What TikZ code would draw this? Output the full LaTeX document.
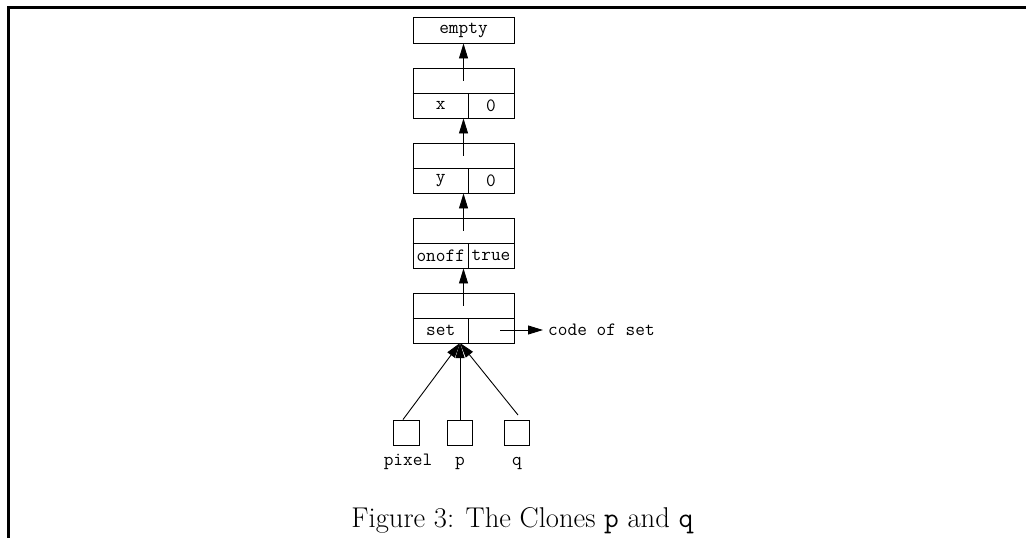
\documentclass[tikz,border=0pt]{standalone}
\usetikzlibrary{arrows.meta}
\tikzset{
  cell/.style={draw, line width=0.9pt, minimum height=25pt, inner sep=0pt, font=\ttfamily\fontsize{18.8}{20}\selectfont},
  lbl/.style={inner sep=0pt, font=\ttfamily\fontsize{18.8}{20}\selectfont},
  ptr/.style={line width=0.9pt, -{Triangle[length=15pt,width=9pt]}},
  frame/.style={line width=3.2pt}
}
\begin{document}
\begin{tikzpicture}[x=1pt,y=-1pt]
\useasboundingbox (0,0) rectangle (1026,538);
% frame
\draw[frame] (8.5,538) -- (8.5,7.5) -- (1026,7.5);
% top box
\node[cell, minimum width=101pt, minimum height=26pt] (empty) at (463.5,30) {empty};
% records
\foreach \n/\t/\a/\b in {x/68/x/0, y/143/y/0, o/218/onoff/true, s/293/set/} {
  \node[cell, minimum width=101pt] (\n t) at (463.5,\t+12.5) {};
  \node[cell, minimum width=55pt] (\n l) at (440.75,\t+37.5) {\a};
  \node[cell, minimum width=46pt] (\n r) at (491,\t+37.5) {\b};
}
\draw[line width=1.6pt] (xt.south west) -- (xt.south east);
\draw[line width=1.6pt] (yt.south west) -- (yt.south east);
\draw[line width=1.6pt] (ot.south west) -- (ot.south east);
\draw[line width=1.6pt] (st.south west) -- (st.south east);
% links
\draw[ptr] (xt.center) -- (empty.south);
\draw[ptr] (yt.center) -- (yt.center |- xl.south);
\draw[ptr] (ot.center) -- (ot.center |- yl.south);
\draw[ptr] (st.center) -- (st.center |- ol.south);
% code pointer
\node[lbl, anchor=west] (code) at (548,330) {code of set};
\coordinate (cs) at (500,330);
\draw[ptr] (cs) -- ([xshift=-5pt]code.west);
% clones
\node[cell, minimum width=26pt] (pixel) at (406,432.5) {};
\node[cell, minimum width=25pt] (p) at (460,432.5) {};
\node[cell, minimum width=25pt] (q) at (516.5,432.5) {};
\node[lbl, anchor=base] (pixell) at (408,465) {pixel};
\node[lbl, anchor=base] (pl) at (460,465) {p};
\node[lbl, anchor=base] (ql) at (517,465) {q};
\coordinate (hook) at (460,343);
\coordinate (qs) at (518,415);
\draw[ptr] ([xshift=-3pt]pixel.north) -- (hook);
\draw[ptr] (p.north) -- (hook);
\draw[ptr] (qs) -- (hook);
% caption
\node[anchor=base, inner sep=0pt, font=\fontsize{28.6}{32}\selectfont] (cap) at (522.5,527) {Figure 3: The Clones \texttt{p} and \texttt{q}};
\end{tikzpicture}
\end{document}
